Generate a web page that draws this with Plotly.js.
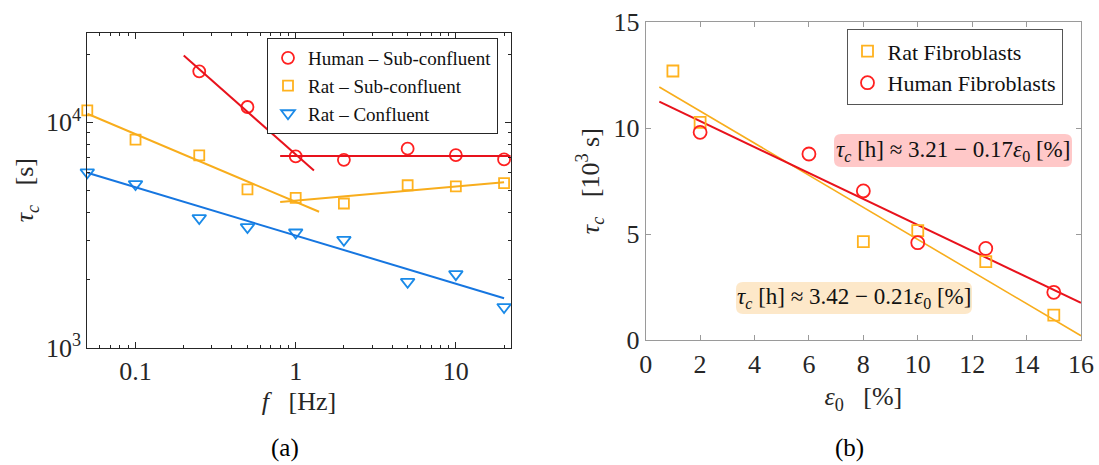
<!DOCTYPE html>
<html>
<head>
<meta charset="utf-8">
<script src="https://cdn.plot.ly/plotly-3.0.1.min.js"></script>
<style>
  html, body { margin: 0; padding: 0; background: #fff; }
  #chart { width: 1099px; height: 465px; }
</style>
</head>
<body>
<div id="chart"></div>
<script>
// ---------- (a) relaxation time vs. frequency ----------
const freq = [0.05, 0.1, 0.25, 0.5, 1, 2, 5, 10, 20];
const freqHuman = [0.25, 0.5, 1, 2, 5, 10, 20];
const tauHumanSub = [16850, 11700, 7070, 6820, 7640, 7160, 6850];
const tauRatSub = [11300, 8380, 7130, 5040, 4620, 4365, 5260, 5200, 5370];
const tauRatConf = [6000, 5320, 3760, 3430, 3245, 3010, 1960, 2120, 1515];

// power-law fits (end points)
const fitHuman1X = [0.2, 1.3],  fitHuman1Y = [19780, 6120];
const fitHuman2X = [0.8, 22],   fitHuman2Y = [7100, 7100];
const fitRatSub1X = [0.05, 1.4], fitRatSub1Y = [10930, 4010];
const fitRatSub2X = [0.8, 20],  fitRatSub2Y = [4430, 5430];
const fitRatConfX = [0.05, 20], fitRatConfY = [5975, 1657];

const freqTickVals = [0.1, 1, 10];
const freqTickText = ['0.1', '1', '10'];
const tauTickVals = [1000, 10000];
const tauTickText = ['10<sup>3</sup>', '10<sup>4</sup>'];

// ---------- (b) relaxation time vs. strain amplitude ----------
const strainRat = [1, 2, 8, 10, 12.5, 15];
const tauRat = [12.69, 10.27, 4.65, 5.17, 3.71, 1.19];
const strainHuman = [2, 6, 8, 10, 12.5, 15];
const tauHuman = [9.80, 8.78, 7.04, 4.60, 4.33, 2.26];

// linear fits: tau_c [h] = a - b * eps0 [%]
const fitHuman = [3.21, 0.17];
const fitRat = [3.42, 0.21];
const fitStrainRange = [0.5, 16];

const FONT = 'Liberation Serif';
const INK = '#262626';
const RED = '#ff2020', RED_LINE = '#e8121c';
const ORANGE = '#ffb21e', ORANGE_LINE = '#f8ad1c';
const BLUE = '#1a8ae8', BLUE_LINE = '#1676e0';

const W = 1099, H = 465;

// minor tick positions on the log axes (2..9 within each decade)
function logMinor(lo, hi) {
  const out = [];
  for (let e = Math.floor(Math.log10(lo)); e <= Math.ceil(Math.log10(hi)); e++) {
    for (let m = 2; m <= 9; m++) {
      const v = m * Math.pow(10, e);
      if (v >= lo && v <= hi) out.push(v);
    }
  }
  return out;
}

function hoursToKs(coef, x) { return (coef[0] - coef[1] * x) * 3.6; }

const traces = [
  // (a) markers
  { x: freqHuman, y: tauHumanSub, mode: 'markers', name: 'Human \u2013 Sub-confluent',
    xaxis: 'x', yaxis: 'y', legend: 'legend', cliponaxis: false,
    marker: { symbol: 'circle-open', size: 12, color: RED, line: { width: 1.8 } } },
  { x: freq, y: tauRatSub, mode: 'markers', name: 'Rat \u2013 Sub-confluent',
    xaxis: 'x', yaxis: 'y', legend: 'legend', cliponaxis: false,
    marker: { symbol: 'square-open', size: 10, color: ORANGE, line: { width: 1.8 } } },
  { x: freq, y: tauRatConf, mode: 'markers', name: 'Rat \u2013 Confluent',
    xaxis: 'x', yaxis: 'y', legend: 'legend', cliponaxis: false,
    marker: { symbol: 'triangle-down-open', size: 12, color: BLUE, line: { width: 1.8 } } },
  // (a) fits
  { x: fitHuman1X, y: fitHuman1Y, mode: 'lines', showlegend: false, xaxis: 'x', yaxis: 'y',
    line: { color: RED_LINE, width: 2 } },
  { x: fitHuman2X, y: fitHuman2Y, mode: 'lines', showlegend: false, xaxis: 'x', yaxis: 'y',
    line: { color: RED_LINE, width: 2 } },
  { x: fitRatSub1X, y: fitRatSub1Y, mode: 'lines', showlegend: false, xaxis: 'x', yaxis: 'y',
    line: { color: ORANGE_LINE, width: 2 } },
  { x: fitRatSub2X, y: fitRatSub2Y, mode: 'lines', showlegend: false, xaxis: 'x', yaxis: 'y',
    line: { color: ORANGE_LINE, width: 2 } },
  { x: fitRatConfX, y: fitRatConfY, mode: 'lines', showlegend: false, xaxis: 'x', yaxis: 'y',
    line: { color: BLUE_LINE, width: 2 } },

  // (b) fits
  { x: fitStrainRange, y: fitStrainRange.map(v => hoursToKs(fitRat, v)), mode: 'lines',
    showlegend: false, xaxis: 'x2', yaxis: 'y2', line: { color: ORANGE_LINE, width: 1.6 } },
  { x: fitStrainRange, y: fitStrainRange.map(v => hoursToKs(fitHuman, v)), mode: 'lines',
    showlegend: false, xaxis: 'x2', yaxis: 'y2', line: { color: RED_LINE, width: 2 } },
  // (b) markers
  { x: strainRat, y: tauRat, mode: 'markers', name: 'Rat Fibroblasts',
    xaxis: 'x2', yaxis: 'y2', legend: 'legend2', cliponaxis: false,
    marker: { symbol: 'square-open', size: 11, color: ORANGE, line: { width: 1.8 } } },
  { x: strainHuman, y: tauHuman, mode: 'markers', name: 'Human Fibroblasts',
    xaxis: 'x2', yaxis: 'y2', legend: 'legend2', cliponaxis: false,
    marker: { symbol: 'circle-open', size: 13, color: RED, line: { width: 1.8 } } }
];

const tickFont = { family: FONT, size: 26, color: INK };
const titleFont = { family: FONT, size: 26, color: INK };

function fitLabel(coef) {
  return '<i>\u03c4<sub>c</sub></i> [h] \u2248 ' + coef[0].toFixed(2) + ' \u2212 ' +
         coef[1].toFixed(2) + '<i>\u03b5</i><sub>0</sub> [%]';
}

// rounded box, given in pixel coordinates of the page, returned as a paper-space path
function roundedBox(x0, y0, x1, y1, r) {
  const px = v => (v / W).toFixed(5), py = v => (1 - v / H).toFixed(5);
  return 'M' + px(x0 + r) + ',' + py(y0) + ' L' + px(x1 - r) + ',' + py(y0) +
    ' Q' + px(x1) + ',' + py(y0) + ' ' + px(x1) + ',' + py(y0 + r) +
    ' L' + px(x1) + ',' + py(y1 - r) +
    ' Q' + px(x1) + ',' + py(y1) + ' ' + px(x1 - r) + ',' + py(y1) +
    ' L' + px(x0 + r) + ',' + py(y1) +
    ' Q' + px(x0) + ',' + py(y1) + ' ' + px(x0) + ',' + py(y1 - r) +
    ' L' + px(x0) + ',' + py(y0 + r) +
    ' Q' + px(x0) + ',' + py(y0) + ' ' + px(x0 + r) + ',' + py(y0) + ' Z';
}

const redBox = [834, 134, 1072, 167];
const orangeBox = [736, 282, 972, 314];

const layout = {
  width: W, height: H,
  margin: { l: 0, r: 0, t: 0, b: 0 },
  paper_bgcolor: '#fff', plot_bgcolor: '#fff',
  font: { family: FONT, size: 20, color: INK },
  xaxis: {
    type: 'log', domain: [87.3 / W, 510.7 / W], anchor: 'y',
    range: [Math.log10(0.05), Math.log10(22)],
    tickmode: 'array', tickvals: freqTickVals, ticktext: freqTickText,
    ticks: 'inside', ticklen: 6, tickwidth: 1, tickcolor: INK,
    showline: true, linecolor: INK, linewidth: 1, mirror: 'ticks',
    showgrid: false, zeroline: false, automargin: false,
    minor: { tickmode: 'array', tickvals: logMinor(0.05, 22), ticks: 'inside', ticklen: 3,
             tickcolor: INK, showgrid: false },
    tickfont: tickFont,
    title: { text: '<i>f</i>\u00a0\u00a0\u00a0[Hz]', font: titleFont, standoff: 6 }
  },
  yaxis: {
    type: 'log', domain: [1 - 347.7 / H, 1 - 32.7 / H], anchor: 'x',
    range: [3, Math.log10(25000)],
    tickmode: 'array', tickvals: tauTickVals, ticktext: tauTickText,
    ticks: 'inside', ticklen: 6, tickwidth: 1, tickcolor: INK,
    showline: true, linecolor: INK, linewidth: 1, mirror: 'ticks',
    showgrid: false, zeroline: false, automargin: false,
    minor: { tickmode: 'array', tickvals: logMinor(1000, 25000), ticks: 'inside', ticklen: 3,
             tickcolor: INK, showgrid: false },
    tickfont: tickFont,
    title: { text: '<i>\u03c4<sub>c</sub></i>\u00a0\u00a0\u00a0[s]', font: titleFont, standoff: 4 }
  },
  xaxis2: {
    domain: [645.7 / W, 1081 / W], anchor: 'y2', range: [0, 16], dtick: 2, tick0: 0,
    ticks: 'inside', ticklen: 5, tickwidth: 1, tickcolor: '#9a9a9a',
    showline: true, linecolor: '#9a9a9a', linewidth: 1, mirror: 'ticks',
    showgrid: false, zeroline: false, automargin: false,
    tickfont: tickFont,
    title: { text: '<i>\u03b5</i><sub>0</sub>\u00a0\u00a0\u00a0[%]', font: titleFont, standoff: 9 }
  },
  yaxis2: {
    domain: [1 - 340.3 / H, 1 - 22 / H], anchor: 'x2', range: [0, 15], dtick: 5, tick0: 0,
    ticks: 'inside', ticklen: 5, tickwidth: 1, tickcolor: '#9a9a9a',
    showline: true, linecolor: '#9a9a9a', linewidth: 1, mirror: 'ticks',
    showgrid: false, zeroline: false, automargin: false,
    tickfont: tickFont,
    title: { text: '<i>\u03c4<sub>c</sub></i>\u00a0\u00a0\u00a0[10<sup>3</sup> s]', font: titleFont, standoff: 6 }
  },
  legend: {
    x: 267 / W, y: 1 - 38 / H, xanchor: 'left', yanchor: 'top',
    bgcolor: '#fff', bordercolor: INK, borderwidth: 1,
    font: { family: FONT, size: 19, color: '#111' }, itemwidth: 30
  },
  legend2: {
    x: 846.5 / W, y: 1 - 29.3 / H, xanchor: 'left', yanchor: 'top',
    bgcolor: '#fff', bordercolor: '#555', borderwidth: 1,
    font: { family: FONT, size: 22, color: '#111' }, itemwidth: 30
  },
  shapes: [
    { type: 'path', xref: 'paper', yref: 'paper', layer: 'below',
      path: roundedBox(redBox[0], redBox[1], redBox[2], redBox[3], 7),
      fillcolor: '#ffc8c8', line: { width: 0 } },
    { type: 'path', xref: 'paper', yref: 'paper', layer: 'below',
      path: roundedBox(orangeBox[0], orangeBox[1], orangeBox[2], orangeBox[3], 7),
      fillcolor: '#fde8c9', line: { width: 0 } }
  ],
  annotations: [
    { xref: 'paper', yref: 'paper', x: (redBox[0] + redBox[2]) / 2 / W,
      y: 1 - (redBox[1] + redBox[3]) / 2 / H, xanchor: 'center', yanchor: 'middle',
      text: fitLabel(fitHuman), showarrow: false,
      font: { family: FONT, size: 23, color: '#111' } },
    { xref: 'paper', yref: 'paper', x: (orangeBox[0] + orangeBox[2]) / 2 / W,
      y: 1 - (orangeBox[1] + orangeBox[3]) / 2 / H, xanchor: 'center', yanchor: 'middle',
      text: fitLabel(fitRat), showarrow: false,
      font: { family: FONT, size: 23, color: '#111' } },
    { xref: 'paper', yref: 'paper', x: 285 / W, y: 1 - 448 / H, xanchor: 'center', yanchor: 'middle',
      text: '(a)', showarrow: false, font: { family: FONT, size: 25, color: '#000' } },
    { xref: 'paper', yref: 'paper', x: 849 / W, y: 1 - 448 / H, xanchor: 'center', yanchor: 'middle',
      text: '(b)', showarrow: false, font: { family: FONT, size: 25, color: '#000' } }
  ]
};

Plotly.newPlot('chart', traces, layout, { displayModeBar: false, staticPlot: true });
</script>
</body>
</html>
